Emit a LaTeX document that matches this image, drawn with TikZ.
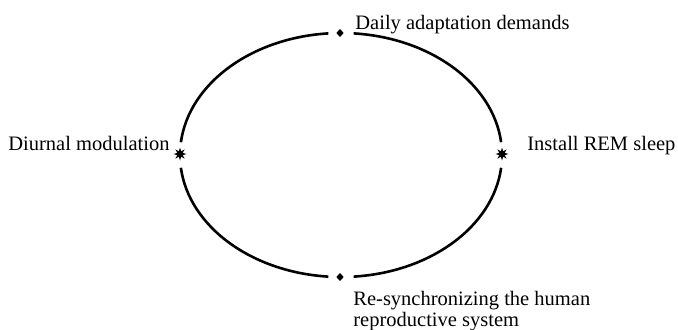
\documentclass[tikz,border=0pt]{standalone}
\usepackage{fontspec}
\setmainfont{Liberation Serif}
\usetikzlibrary{shapes.geometric}
\begin{document}
\begin{tikzpicture}[x=0.5pt,y=0.5pt,
  loopline/.style={line width=1.3pt},
  starmark/.style={star,star points=8,star point ratio=2.2,fill=black,inner sep=0pt,minimum size=6.5pt},
  diamark/.style={diamond,fill=black,inner sep=0pt,minimum width=3.8pt,minimum height=4.2pt},
  lbl/.style={inner sep=0pt,font=\fontsize{10.25}{10.5}\selectfont,align=left}]
\useasboundingbox (0,0) rectangle (678,329);
\coordinate (c) at (341,174);
\node[diamark] (top) at (340,296) {};
\node[diamark] (bot) at (340,52) {};
\node[starmark] (left) at (180,175) {};
\node[starmark] (right) at (502,175) {};
\def\rx{161}\def\ry{122}
\draw[loopline] ([shift={(6:\rx*0.5pt and \ry*0.5pt)}]c) arc[start angle=6,end angle=85.5,x radius=\rx,y radius=\ry];
\draw[loopline] ([shift={(94.5:\rx*0.5pt and \ry*0.5pt)}]c) arc[start angle=94.5,end angle=174,x radius=\rx,y radius=\ry];
\draw[loopline] ([shift={(186:\rx*0.5pt and \ry*0.5pt)}]c) arc[start angle=186,end angle=265.5,x radius=\rx,y radius=\ry];
\draw[loopline] ([shift={(274.5:\rx*0.5pt and \ry*0.5pt)}]c) arc[start angle=274.5,end angle=354,x radius=\rx,y radius=\ry];
\node[lbl,anchor=base west] (t1) at (355,300) {Daily adaptation demands};
\node[lbl,anchor=base west] (t2) at (8,179) {Diurnal modulation};
\node[lbl,anchor=base west] (t3) at (527,179) {Install REM sleep};
\node[lbl,anchor=base west] (t4) at (353,3) {Re-synchronizing the human\\reproductive system};
\end{tikzpicture}
\end{document}
